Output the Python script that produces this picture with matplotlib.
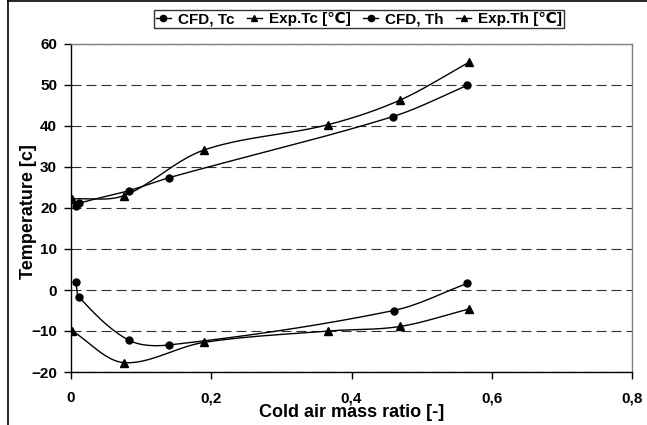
import numpy as np
import matplotlib
matplotlib.use("Agg")
import matplotlib.pyplot as plt
from matplotlib.lines import Line2D

# ---- data ----
cfd_tc_x = [0.007, 0.012, 0.082, 0.140, 0.460, 0.565]
cfd_tc_y = [1.9, -1.8, -12.2, -13.4, -5.0, 1.6]
exp_tc_x = [0.002, 0.075, 0.189, 0.366, 0.469, 0.568]
exp_tc_y = [-10.0, -17.7, -12.8, -10.0, -8.9, -4.6]
cfd_th_x = [0.007, 0.012, 0.082, 0.140, 0.459, 0.565]
cfd_th_y = [20.6, 21.2, 24.2, 27.4, 42.3, 49.9]
exp_th_x = [0.002, 0.075, 0.189, 0.366, 0.469, 0.568]
exp_th_y = [22.2, 23.0, 34.1, 40.3, 46.3, 55.6]

xticks = [0, 0.2, 0.4, 0.6, 0.8]
xtick_labels = ["0", "0,2", "0,4", "0,6", "0,8"]
yticks = [-20, -10, 0, 10, 20, 30, 40, 50, 60]
legend_labels = ["CFD, Tc", "Exp.Tc [\u2103]", "CFD, Th", "Exp.Th [\u2103]"]

plt.rcParams['font.family'] = ['Liberation Sans', 'DejaVu Sans']
plt.rcParams['font.weight'] = 'bold'

W, H = 647, 425
fig = plt.figure(figsize=(W / 100, H / 100), dpi=100)
L, R, T, B = 71, 632, 44, 372
ax = fig.add_axes([L / W, 1 - B / H, (R - L) / W, (B - T) / H])
ax.set_xlim(0, 0.8)
ax.set_ylim(-20, 60)

# outer chart-area border
fig.add_artist(Line2D([8 / W, 8 / W], [0, 1], transform=fig.transFigure, color='black', lw=1.2))
fig.add_artist(Line2D([8 / W, 1], [1 - 0.8 / H, 1 - 0.8 / H], transform=fig.transFigure, color='black', lw=1.2))


def smooth(xs, ys, n=40):
    pts = ax.transData.transform(np.column_stack([xs, ys]))
    P = np.vstack([pts[0], pts, pts[-1]])
    out = []
    t = np.linspace(0, 1, n)[:, None]
    for i in range(1, len(P) - 2):
        p0, p1, p2, p3 = P[i - 1], P[i], P[i + 1], P[i + 2]
        d01 = np.hypot(*(p1 - p0))
        d12 = np.hypot(*(p2 - p1))
        d23 = np.hypot(*(p3 - p2))
        c1 = p1 + (p2 - p0) * d12 / (d01 + d12) / 3
        c2 = p2 - (p3 - p1) * d12 / (d12 + d23) / 3
        seg = (1 - t) ** 3 * p1 + 3 * (1 - t) ** 2 * t * c1 + 3 * (1 - t) * t ** 2 * c2 + t ** 3 * p2
        out.append(seg)
    c = ax.transData.inverted().transform(np.vstack(out))
    return c[:, 0], c[:, 1]


series = [
    (cfd_tc_x, cfd_tc_y, 'o', 5.0),
    (exp_tc_x, exp_tc_y, '^', 5.5),
    (cfd_th_x, cfd_th_y, 'o', 5.0),
    (exp_th_x, exp_th_y, '^', 5.5),
]
handles = []
for (xs, ys, m, ms), lab in zip(series, legend_labels):
    sx, sy = smooth(xs, ys)
    ax.plot(sx, sy, color='black', lw=1.0, zorder=3)
    ax.plot(xs, ys, linestyle='none', marker=m, ms=ms, color='black', zorder=4)
    handles.append(Line2D([], [], color='black', lw=1.0, marker=m, ms=ms - 0.5, label=lab))

# grid & axes styling
ax.set_yticks(yticks)
ax.set_xticks(xticks)
ax.set_xticklabels(xtick_labels)
ax.yaxis.grid(True, linestyle=(0, (9, 4.5)), color='#303030', lw=0.8)
ax.set_axisbelow(True)
for s in ['left', 'bottom']:
    ax.spines[s].set_color('black')
    ax.spines[s].set_linewidth(1.0)
for s in ['top', 'right']:
    ax.spines[s].set_color('#808080')
    ax.spines[s].set_linewidth(1.0)
ax.tick_params(direction='out', length=5, width=1.0, labelsize=11, colors='black')
ax.tick_params(axis='x', pad=9)
ax.tick_params(axis='y', pad=5)
for lbl in ax.get_xticklabels() + ax.get_yticklabels():
    lbl.set_fontweight('bold')

ax.set_xlabel("Cold air mass ratio [-]", fontsize=13, fontweight='bold', labelpad=-1)
ax.set_ylabel("Temperature [c]", fontsize=13, fontweight='bold')
ax.yaxis.set_label_coords((37 - L) / (R - L), 0.49)

leg = fig.legend(handles=handles, loc='center', ncol=4,
                 bbox_to_anchor=(359 / W, 1 - 19 / H), frameon=True, fancybox=False,
                 edgecolor='black', fontsize=11, handlelength=1.0, handletextpad=0.45,
                 columnspacing=0.8, borderpad=0.15, borderaxespad=0)
leg.get_frame().set_linewidth(1.0)
for txt in leg.get_texts():
    txt.set_fontweight('bold')

fig.savefig("out.png", dpi=100)
